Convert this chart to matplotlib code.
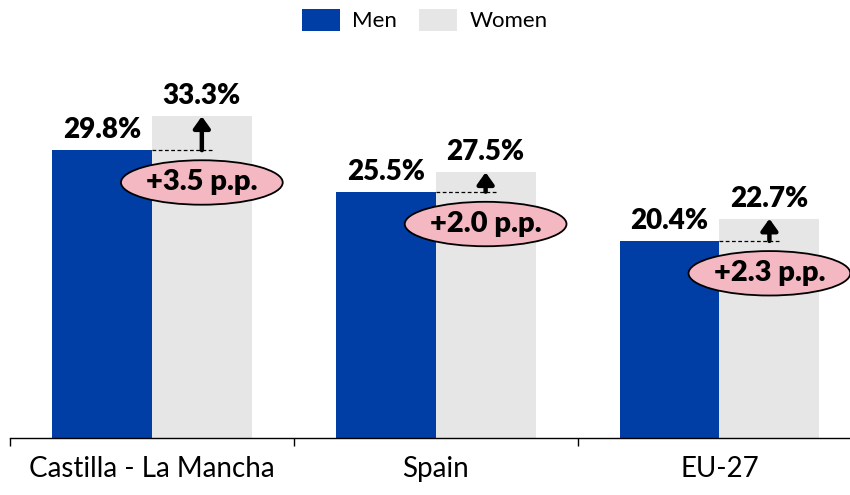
import matplotlib.pyplot as plt
from matplotlib.patches import Ellipse, Patch
import numpy as np

plt.rcParams['font.family'] = ['Lato', 'DejaVu Sans']

# data
regions = ["Castilla - La Mancha", "Spain", "EU-27"]
men = [29.8, 25.5, 20.4]
women = [33.3, 27.5, 22.7]
gaps = ["+3.5 p.p.", "+2.0 p.p.", "+2.3 p.p."]

MEN_COLOR = "#003DA5"
WOMEN_COLOR = "#E6E6E6"
PINK = "#F4B8C2"

fig = plt.figure(figsize=(8.5, 4.95), dpi=100)
ax = fig.add_axes([10 / 850, 57 / 495, 840 / 850, 398 / 495])

x = np.arange(len(regions))
w = 0.352
off = 0.176

ax.bar(x - off, men, w, color=MEN_COLOR)
ax.bar(x + off, women, w, color=WOMEN_COLOR)

for i in range(len(regions)):
    ax.annotate(f"{men[i]:.1f}%", (x[i] - off, men[i]), xytext=(0, 5),
                textcoords="offset points", ha="center", va="bottom",
                fontsize=20, fontweight="heavy")
    ax.annotate(f"{women[i]:.1f}%", (x[i] + off, women[i]), xytext=(0, 5),
                textcoords="offset points", ha="center", va="bottom",
                fontsize=20, fontweight="heavy")
    # dashed reference line at the men's level
    ax.plot([x[i], x[i] + off + 0.035], [men[i], men[i]], color="black",
            lw=0.9, ls=(0, (3, 2)))
    # arrow up to the women's level
    ax.annotate("", xy=(x[i] + off, women[i]), xytext=(x[i] + off, men[i]),
                arrowprops=dict(arrowstyle="-|>,head_width=0.5,head_length=0.7",
                                color="black", lw=3.2, shrinkA=0, shrinkB=0))
    # gap bubble
    ey = men[i] - 3.35
    ax.add_patch(Ellipse((x[i] + off, ey), 0.57, 4.6, facecolor=PINK,
                         edgecolor="black", lw=1.3, zorder=5))
    ax.text(x[i] + off, ey, gaps[i], ha="center", va="center", fontsize=21,
            fontweight="heavy", zorder=6)

ax.set_xlim(-0.5, 2.46)
ax.set_ylim(0, 41.2)
ax.set_yticks([])
for s in ["left", "right", "top"]:
    ax.spines[s].set_visible(False)
ax.spines["bottom"].set_color("black")
ax.spines["bottom"].set_linewidth(1)

ax.set_xticks(x)
ax.set_xticklabels(regions, fontsize=20)
ax.tick_params(axis="x", which="major", length=0, pad=13)
ax.set_xticks([-0.5, 0.5, 1.5], minor=True)
ax.tick_params(axis="x", which="minor", length=6, width=1, color="black")

handles = [Patch(facecolor=MEN_COLOR, label="Men"),
           Patch(facecolor=WOMEN_COLOR, label="Women")]
fig.legend(handles=handles, loc="center", bbox_to_anchor=(0.5, 1 - 20 / 495),
           ncol=2, frameon=False, fontsize=16, handlelength=1.7,
           handleheight=1.2, handletextpad=0.55, columnspacing=1.0)

fig.savefig("out.png", dpi=100)
